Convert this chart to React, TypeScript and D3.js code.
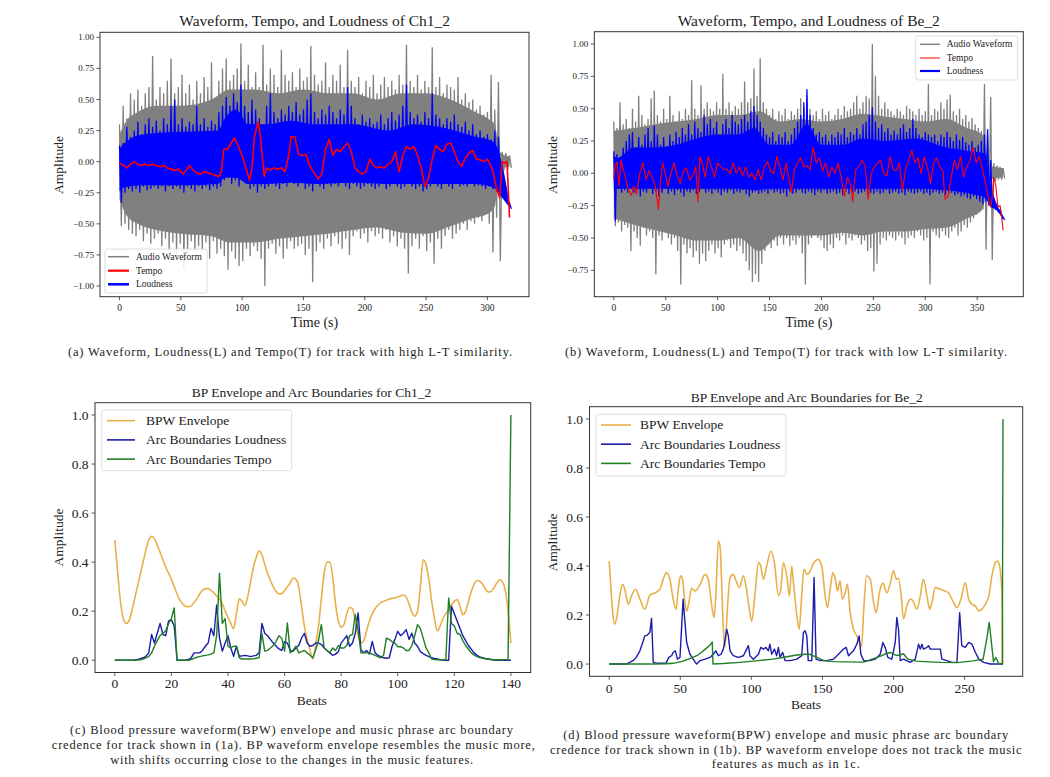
import React from 'react';
import * as d3 from 'd3';

const SERIF = "'Liberation Serif', 'Times New Roman', Times, serif";

// ---------------- (a) Ch1_2 : waveform / loudness / tempo ----------------
const CH_STEP = 3; // seconds between envelope samples (peak values per sample)
const CH_WAVE_UPPER = [
  0.30, 0.45, 0.35, 0.55,
  0.50, 0.58, 0.45, 0.55, 0.60, 0.85,
  0.50, 0.60, 0.55, 0.65, 0.83, 0.55,
  0.60, 0.70, 0.55, 0.62, 0.50, 0.65,
  0.55, 0.68, 0.60, 0.80, 0.50, 0.65,
  0.75, 0.83, 0.65, 0.70, 0.75, 0.95,
  0.65, 0.78, 0.60, 0.72, 0.60, 0.94,
  0.62, 0.75, 0.70, 0.60, 0.90, 0.70,
  0.65, 0.72, 0.60, 0.75, 0.65, 0.68,
  0.93, 0.70, 0.62, 0.65, 0.80, 0.60,
  0.70, 0.65, 0.78, 0.60, 0.90, 0.65,
  0.60, 0.68, 0.55, 0.65, 0.60, 0.70,
  0.55, 0.62, 0.68, 0.60, 0.65, 0.58,
  0.70, 0.62, 0.94, 0.65, 0.60, 0.70,
  0.58, 0.65, 0.60, 0.92, 0.60, 0.68,
  0.55, 0.62, 0.60, 0.58, 0.68, 0.50,
  0.55, 0.48, 0.50, 0.42, 0.45, 0.38,
  0.40, 0.70, 0.42, 0.64, 0.08, 0.07, 0.05,
];
const CH_WAVE_LOWER = [
  -0.52, -0.50, -0.55, -0.58,
  -0.60, -0.55, -0.64, -0.58, -0.66, -0.62,
  -0.58, -0.68, -0.62, -0.72, -0.65, -0.74,
  -0.66, -0.86, -0.75, -0.64, -0.72, -0.68,
  -0.72, -0.65, -0.78, -0.64, -0.74, -0.70,
  -0.76, -0.87, -0.72, -0.78, -0.84, -0.80,
  -0.70, -0.76, -0.68, -0.72, -0.78, -1.00,
  -0.70, -0.66, -0.74, -0.68, -0.78, -0.70,
  -0.64, -0.70, -0.68, -0.66, -0.75, -0.70,
  -0.97, -0.72, -0.65, -0.70, -0.62, -0.68,
  -0.60, -0.66, -0.70, -0.62, -0.75, -0.60,
  -0.56, -0.62, -0.58, -0.65, -0.56, -0.60,
  -0.58, -0.62, -0.55, -0.65, -0.60, -0.68,
  -0.62, -0.70, -0.90, -0.68, -0.62, -0.70,
  -0.60, -0.72, -0.65, -0.82, -0.62, -0.70,
  -0.60, -0.55, -0.62, -0.58, -0.55, -0.50,
  -0.55, -0.48, -0.50, -0.45, -0.48, -0.42,
  -0.50, -0.73, -0.45, -0.80, -0.07, -0.06, -0.05,
];
// dense (solid) body of the waveform band
const CH_WAVE_CORE_T = [0, 5, 15, 30, 50, 75, 90, 110, 130, 150, 170, 190, 210, 230, 250, 270, 290, 300, 306, 310, 318];
const CH_WAVE_CORE_HI = [0.22, 0.32, 0.4, 0.45, 0.45, 0.5, 0.58, 0.58, 0.55, 0.58, 0.55, 0.55, 0.5, 0.55, 0.55, 0.5, 0.4, 0.35, 0.3, 0.08, 0.04];
const CH_WAVE_CORE_LO = [-0.3, -0.42, -0.5, -0.55, -0.58, -0.6, -0.65, -0.65, -0.62, -0.6, -0.58, -0.55, -0.53, -0.57, -0.58, -0.52, -0.45, -0.42, -0.36, -0.06, -0.04];

const CH_LOUD_UPPER = [
  0.13, 0.15, 0.28, 0.20,
  0.25, 0.32, 0.22, 0.30, 0.35, 0.28,
  0.33, 0.25, 0.35, 0.30, 0.45, 0.50,
  0.30, 0.35, 0.28, 0.32, 0.30, 0.45,
  0.30, 0.35, 0.28, 0.33, 0.30, 0.40,
  0.45, 0.52, 0.45, 0.55, 0.48, 0.62,
  0.45, 0.40, 0.50, 0.42, 0.35, 0.30,
  0.45, 0.55, 0.40, 0.35, 0.42, 0.38,
  0.45, 0.40, 0.48, 0.38, 0.42, 0.50,
  0.55, 0.40, 0.35, 0.42, 0.38, 0.45,
  0.40, 0.35, 0.42, 0.38, 0.60, 0.45,
  0.35, 0.30, 0.38, 0.32, 0.35, 0.30,
  0.32, 0.38, 0.30, 0.35, 0.40, 0.33,
  0.38, 0.45, 0.62, 0.40, 0.35, 0.38,
  0.32, 0.40, 0.35, 0.55, 0.38, 0.35,
  0.30, 0.35, 0.32, 0.38, 0.30, 0.28,
  0.32, 0.25, 0.30, 0.22, 0.25, 0.20,
  0.22, 0.18, 0.25, 0.20, 0.00, -0.20, -0.33,
];
const CH_LOUD_LOWER = [
  -0.33, -0.25, -0.22, -0.24,
  -0.22, -0.25, -0.20, -0.23, -0.22, -0.20,
  -0.22, -0.20, -0.24, -0.20, -0.22, -0.20,
  -0.22, -0.25, -0.20, -0.22, -0.24, -0.20,
  -0.22, -0.20, -0.23, -0.20, -0.22, -0.20,
  -0.15, -0.12, -0.18, -0.15, -0.20, -0.15,
  -0.18, -0.22, -0.20, -0.25, -0.20, -0.22,
  -0.20, -0.18, -0.20, -0.22, -0.18, -0.20,
  -0.15, -0.18, -0.20, -0.17, -0.22, -0.20,
  -0.24, -0.18, -0.20, -0.22, -0.18, -0.20,
  -0.18, -0.20, -0.17, -0.20, -0.22, -0.18,
  -0.20, -0.22, -0.20, -0.18, -0.20, -0.22,
  -0.20, -0.18, -0.22, -0.20, -0.18, -0.20,
  -0.22, -0.20, -0.18, -0.20, -0.22, -0.20,
  -0.24, -0.22, -0.20, -0.18, -0.20, -0.22,
  -0.18, -0.20, -0.22, -0.18, -0.20, -0.19,
  -0.20, -0.18, -0.20, -0.19, -0.20, -0.22,
  -0.20, -0.22, -0.24, -0.26, -0.30, -0.33, -0.38,
];
const CH_LOUD_CORE_T = [0, 3, 20, 50, 80, 86, 95, 105, 120, 140, 160, 190, 220, 240, 260, 290, 305, 312, 318];
const CH_LOUD_CORE_HI = [0.1, 0.14, 0.22, 0.24, 0.25, 0.35, 0.42, 0.3, 0.3, 0.33, 0.3, 0.3, 0.25, 0.3, 0.28, 0.2, 0.16, -0.02, -0.33];
const CH_LOUD_CORE_LO = [-0.24, -0.21, -0.19, -0.19, -0.18, -0.13, -0.13, -0.18, -0.18, -0.17, -0.18, -0.17, -0.18, -0.18, -0.18, -0.18, -0.21, -0.29, -0.37];

const CH_TEMPO_T = [
  0, 3, 6, 9, 12, 15, 18, 21, 24, 27, 30, 33, 36, 39, 42, 45, 48,
  52, 55, 57, 60, 63, 66, 69, 72, 75, 78, 81,
  83, 85, 88, 91, 94, 97, 100, 103, 106, 108, 110, 113, 115, 118, 120,
  123, 126, 129, 132, 135, 138, 140, 143, 146, 149, 152, 155, 158, 162, 165, 168, 171,
  174, 177, 180, 183, 186, 189, 192, 195, 198, 201, 204, 207, 210, 213, 216, 219, 222, 225, 228, 231, 234, 237, 240, 243, 246, 249, 252,
  255, 258, 261, 264, 267, 270, 273, 276, 279, 282, 285, 288, 291, 294, 297, 300, 303,
  305, 307, 310, 312, 314, 316, 318,
];
const CH_TEMPO_V = [
  -0.01, -0.03, -0.05, -0.02, 0.0, -0.02, -0.03, -0.02, -0.03, -0.02, -0.03, -0.04, -0.03, -0.05, -0.06, -0.07, -0.06,
  -0.1, -0.06, -0.03, -0.07, -0.09, -0.1, -0.08, -0.09, -0.1, -0.11, -0.12,
  -0.08, 0.1, 0.1, 0.15, 0.19, 0.12, 0.05, -0.05, -0.15, -0.05, 0.2, 0.32, 0.2, -0.12, -0.05,
  -0.07, -0.05, -0.06, -0.05, -0.08, 0.05, 0.2, 0.2, 0.06, 0.05, 0.06, -0.03, -0.08, -0.14, -0.1, 0.1, 0.18,
  0.05, 0.1, 0.08, 0.12, 0.15, 0.08, -0.05, -0.08, -0.1, -0.08, 0.02, -0.03, -0.05, -0.04, -0.05, -0.02, 0.0, 0.08, -0.08, 0.05, 0.12, 0.1, 0.12, 0.05, -0.05, -0.2, -0.13,
  0.02, 0.13, 0.1, 0.08, 0.14, 0.15, 0.08, 0.0, -0.04, 0.03, 0.07, 0.09, 0.02, 0.015, 0.0, 0.02, -0.04,
  -0.1, -0.2, -0.29, 0.0, -0.01, 0.0, -0.45,
];

// ---------------- (b) Be_2 : waveform / loudness / tempo ----------------
const BE_STEP = 3;
const BE_WAVE_UPPER = [
  0.40, 0.35, 0.55, 0.38, 0.42, 0.35,
  0.50, 0.40, 0.60, 0.45, 0.38, 0.42,
  0.58, 0.64, 0.45, 0.40, 0.50, 0.42,
  0.60, 0.45, 0.40, 0.48, 0.42, 0.50,
  0.45, 0.72, 0.50, 0.45, 0.68, 0.50,
  0.55, 0.50, 0.48, 0.55, 0.50, 0.77,
  0.50, 0.55, 0.48, 0.52, 0.50, 0.55,
  0.71, 0.55, 0.58, 0.81, 0.60, 0.89,
  0.55, 0.50, 0.45, 0.50, 0.42, 0.48,
  0.45, 0.50, 0.42, 0.48, 0.45, 0.50,
  0.58, 0.52, 0.60, 0.50, 0.45, 0.48,
  0.42, 0.50, 0.45, 0.48, 0.42, 0.45,
  0.50, 0.45, 0.52, 0.48, 0.50, 0.55,
  0.60, 0.50, 0.55, 0.60, 0.58, 1.00,
  0.75, 0.60, 0.50, 0.55, 0.50, 0.48,
  0.45, 0.50, 0.48, 0.45, 0.52, 0.50,
  0.48, 0.45, 0.50, 0.45, 0.48, 0.69,
  0.45, 0.50, 0.48, 0.55, 0.50, 0.57,
  0.61, 0.48, 0.45, 0.50, 0.42, 0.45,
  0.40, 0.43, 0.38, 0.35, 0.33, 0.69,
  0.30, 0.59, 0.08, 0.06, 0.05, 0.04,
];
const BE_WAVE_LOWER = [
  -0.41, -0.38, -0.45, -0.40, -0.42, -0.60,
  -0.45, -0.50, -0.56, -0.42, -0.48, -0.45,
  -0.50, -0.78, -0.48, -0.52, -0.46, -0.50,
  -0.55, -0.50, -0.60, -0.86, -0.55, -0.62,
  -0.58, -0.65, -0.60, -0.70, -0.62, -0.68,
  -0.60, -0.55, -0.62, -0.58, -0.65, -0.55,
  -0.52, -0.58, -0.55, -0.60, -0.56, -0.62,
  -0.68, -0.75, -0.84, -0.78, -0.84, -0.70,
  -0.60, -0.55, -0.58, -0.52, -0.56, -0.50,
  -0.55, -0.50, -0.56, -0.52, -0.55, -0.50,
  -0.62, -0.86, -0.55, -0.50, -0.45, -0.50,
  -0.52, -0.58, -0.60, -0.55, -0.58, -0.50,
  -0.52, -0.48, -0.55, -0.50, -0.52, -0.48,
  -0.50, -0.55, -0.52, -0.60, -0.58, -0.76,
  -0.70, -0.55, -0.50, -0.52, -0.48, -0.50,
  -0.52, -0.48, -0.50, -0.55, -0.50, -0.48,
  -0.50, -0.45, -0.48, -0.52, -0.50, -0.86,
  -0.45, -0.48, -0.50, -0.45, -0.48, -0.50,
  -0.45, -0.42, -0.48, -0.45, -0.40, -0.42,
  -0.38, -0.35, -0.32, -0.30, -0.28, -0.59,
  -0.25, -0.67, -0.06, -0.05, -0.05, -0.04,
];
const BE_WAVE_CORE_T = [0, 20, 40, 60, 80, 100, 120, 140, 160, 180, 200, 220, 240, 260, 280, 300, 320, 340, 355, 362, 375];
const BE_WAVE_CORE_HI = [0.33, 0.35, 0.38, 0.4, 0.42, 0.45, 0.45, 0.48, 0.4, 0.42, 0.4, 0.42, 0.46, 0.44, 0.42, 0.4, 0.42, 0.35, 0.3, 0.06, 0.04];
const BE_WAVE_CORE_LO = [-0.35, -0.4, -0.44, -0.48, -0.52, -0.52, -0.5, -0.6, -0.48, -0.48, -0.48, -0.46, -0.48, -0.45, -0.45, -0.43, -0.42, -0.35, -0.28, -0.05, -0.03];

const BE_LOUD_UPPER = [
  0.17, 0.15, 0.12, 0.20, 0.25, 0.30,
  0.32, 0.20, 0.28, 0.22, 0.30, 0.35,
  0.25, 0.37, 0.30, 0.22, 0.28, 0.20,
  0.30, 0.25, 0.32, 0.28, 0.35, 0.30,
  0.38, 0.30, 0.40, 0.35, 0.32, 0.45,
  0.38, 0.42, 0.35, 0.40, 0.30, 0.38,
  0.42, 0.35, 0.45, 0.40, 0.38, 0.42,
  0.45, 0.40, 0.48, 0.52, 0.45, 0.40,
  0.35, 0.30, 0.28, 0.32, 0.25, 0.30,
  0.28, 0.32, 0.25, 0.30, 0.35, 0.40,
  0.45, 0.55, 0.65, 0.45, 0.35, 0.30,
  0.32, 0.28, 0.30, 0.25, 0.30, 0.28,
  0.32, 0.30, 0.35, 0.28, 0.32, 0.30,
  0.35, 0.30, 0.38, 0.40, 0.45, 0.51,
  0.40, 0.35, 0.38, 0.32, 0.35, 0.30,
  0.33, 0.30, 0.35, 0.38, 0.32, 0.35,
  0.42, 0.35, 0.30, 0.28, 0.32, 0.30,
  0.28, 0.30, 0.25, 0.30, 0.28, 0.32,
  0.28, 0.25, 0.30, 0.26, 0.28, 0.24,
  0.22, 0.25, 0.20, 0.22, 0.25, 0.30,
  0.34, 0.10, -0.20, -0.25, -0.28, -0.34,
];
const BE_LOUD_LOWER = [
  -0.37, -0.12, -0.15, -0.13, -0.15, -0.12,
  -0.15, -0.13, -0.18, -0.14, -0.15, -0.12,
  -0.16, -0.14, -0.18, -0.15, -0.12, -0.16,
  -0.14, -0.17, -0.13, -0.15, -0.18, -0.14,
  -0.15, -0.13, -0.16, -0.14, -0.12, -0.15,
  -0.14, -0.16, -0.13, -0.15, -0.17, -0.14,
  -0.15, -0.13, -0.16, -0.14, -0.15, -0.13,
  -0.16, -0.18, -0.15, -0.14, -0.16, -0.15,
  -0.14, -0.16, -0.13, -0.15, -0.14, -0.16,
  -0.15, -0.18, -0.14, -0.16, -0.15, -0.13,
  -0.15, -0.16, -0.14, -0.15, -0.17, -0.14,
  -0.15, -0.13, -0.16, -0.15, -0.14, -0.16,
  -0.15, -0.17, -0.14, -0.16, -0.15, -0.14,
  -0.16, -0.15, -0.14, -0.17, -0.15, -0.16,
  -0.14, -0.16, -0.15, -0.13, -0.16, -0.15,
  -0.14, -0.16, -0.15, -0.17, -0.14, -0.15,
  -0.16, -0.15, -0.14, -0.16, -0.15, -0.17,
  -0.15, -0.14, -0.16, -0.15, -0.17, -0.16,
  -0.15, -0.17, -0.16, -0.18, -0.17, -0.19,
  -0.20, -0.18, -0.20, -0.22, -0.24, -0.22,
  -0.25, -0.26, -0.28, -0.30, -0.32, -0.36,
];
const BE_LOUD_CORE_T = [0, 3, 20, 40, 60, 80, 100, 120, 135, 150, 170, 186, 200, 220, 240, 260, 290, 320, 345, 358, 362, 368, 375];
const BE_LOUD_CORE_HI = [0.14, 0.12, 0.2, 0.2, 0.22, 0.27, 0.3, 0.3, 0.35, 0.22, 0.22, 0.38, 0.22, 0.22, 0.27, 0.25, 0.27, 0.2, 0.17, 0.15, -0.05, -0.22, -0.33];
const BE_LOUD_CORE_LO = [-0.13, -0.12, -0.12, -0.12, -0.12, -0.12, -0.12, -0.12, -0.13, -0.12, -0.12, -0.12, -0.12, -0.12, -0.12, -0.12, -0.12, -0.13, -0.16, -0.19, -0.25, -0.28, -0.36];

const BE_TEMPO_T = [
  0, 1, 3, 5, 7, 9, 11, 14, 17, 19,
  22, 25, 28, 31, 34, 37, 40, 43, 45, 47,
  50, 52, 55, 58, 61, 64, 67, 70, 73, 76,
  79, 81, 83, 85, 88, 91, 94, 97, 100, 103,
  106, 109, 112, 115, 118, 121, 124, 127, 130, 133,
  136, 139, 142, 145, 148, 151, 154, 157, 160, 163,
  166, 169, 171, 174, 177, 180, 183, 186, 189, 192,
  195, 198, 201, 204, 207, 210, 213, 216, 219, 222,
  225, 228, 230, 233, 236, 239, 242, 245, 248, 251,
  254, 257, 260, 263, 266, 269, 272, 275, 278, 281,
  284, 287, 290, 293, 296, 299, 302, 305, 308, 311,
  314, 317, 319, 322, 325, 328, 331, 334, 337, 340,
  343, 346, 349, 352, 355, 358, 361, 363, 365, 366,
  368, 370, 372, 373, 374, 375,
];
const BE_TEMPO_V = [
  -0.05, 0.05, 0.09, -0.1, 0.1, 0.03, -0.02, -0.13, -0.17, -0.1,
  -0.16, 0.0, 0.08, -0.05, 0.02, -0.03, -0.1, -0.28, -0.05, 0.08,
  -0.02, -0.1, 0.0, 0.08, -0.02, -0.08, 0.02, 0.04, -0.05, -0.02,
  0.05, -0.22, 0.13, 0.08, -0.03, 0.13, 0.05, -0.03, 0.08, 0.05,
  0.03, 0.03, 0.0, 0.08, 0.0, 0.05, -0.02, 0.05, -0.03, 0.0,
  -0.05, 0.03, -0.05, 0.05, 0.09, 0.02, 0.0, 0.13, 0.05, -0.05,
  0.08, -0.05, -0.15, 0.03, 0.08, 0.12, 0.05, 0.06, 0.03, 0.2,
  0.08, 0.12, 0.02, 0.08, -0.03, 0.05, 0.0, 0.08, -0.03, -0.18,
  -0.03, -0.08, -0.22, 0.03, 0.05, 0.1, 0.06, -0.2, 0.0, 0.05,
  0.08, 0.1, 0.0, -0.02, 0.13, 0.03, 0.02, 0.08, -0.13, 0.03,
  0.1, 0.18, 0.08, 0.12, 0.0, 0.13, 0.05, -0.08, 0.08, 0.12,
  0.05, 0.02, -0.2, -0.18, -0.03, 0.1, 0.03, 0.13, -0.03, 0.05,
  0.1, 0.2, 0.08, 0.13, 0.03, -0.08, -0.2, -0.26, -0.15, -0.03,
  -0.1, -0.26, -0.25, -0.3, -0.37, -0.44,
];

// ---------------- (c) Ch1_2 : BPW envelope & arc boundaries (one value per beat) ----------------
const CH_BPW = [
  0.49, 0.36, 0.24, 0.17, 0.15, 0.16, 0.2, 0.25, 0.3, 0.35,
  0.4, 0.45, 0.49, 0.505, 0.495, 0.47, 0.44, 0.41, 0.38, 0.355,
  0.33, 0.3, 0.27, 0.245, 0.23, 0.22, 0.218, 0.222, 0.235, 0.25,
  0.27, 0.285, 0.292, 0.292, 0.285, 0.275, 0.262, 0.25, 0.23, 0.2,
  0.175, 0.15, 0.128, 0.19, 0.25, 0.24, 0.222, 0.26, 0.32, 0.38,
  0.42, 0.445, 0.43, 0.39, 0.355, 0.325, 0.3, 0.28, 0.27, 0.272,
  0.285, 0.3, 0.315, 0.335, 0.33, 0.3, 0.22, 0.14, 0.085, 0.04,
  0.005, 0.06, 0.14, 0.25, 0.355, 0.4, 0.4, 0.34, 0.23, 0.16,
  0.135, 0.145, 0.19, 0.215, 0.21, 0.16, 0.1, 0.07, 0.08, 0.12,
  0.16, 0.19, 0.21, 0.225, 0.235, 0.24, 0.245, 0.25, 0.252, 0.255,
  0.258, 0.262, 0.266, 0.258, 0.23, 0.195, 0.18, 0.2, 0.3, 0.41,
  0.39, 0.33, 0.24, 0.17, 0.12, 0.14, 0.17, 0.19, 0.205, 0.225,
  0.24, 0.247, 0.22, 0.185, 0.2, 0.24, 0.28, 0.31, 0.325, 0.322,
  0.31, 0.29, 0.278, 0.28, 0.295, 0.315, 0.328, 0.32, 0.285, 0.2,
  0.07,
];
const CH_ARC_LOUD = [
  0, 0, 0, 0, 0, 0, 0, 0.001, 0.003, 0.006,
  0.01, 0.016, 0.03, 0.105, 0.07, 0.11, 0.15, 0.105, 0.1, 0.16,
  0.165, 0.14, 0, 0, 0, 0, 0.003, 0.01, 0.03, 0.03,
  0.03, 0.04, 0.057, 0.07, 0.13, 0.1, 0.225, 0.09, 0.037, 0.07,
  0.1, 0.05, 0.016, 0.057, 0.016, 0.018, 0.02, 0.018, 0.015, 0.018,
  0.02, 0.03, 0.15, 0.11, 0.1, 0.085, 0.07, 0.058, 0.046, 0.04,
  0.077, 0.07, 0.04, 0.037, 0.05, 0.06, 0.09, 0.11, 0.07, 0.057,
  0.06, 0.07, 0.07, 0.065, 0.05, 0.04, 0.03, 0.02, 0.025, 0.035,
  0.07, 0.085, 0.1, 0.057, 0.07, 0.11, 0.193, 0.043, 0.03, 0.04,
  0.025, 0.077, 0.03, 0.02, 0.015, 0.01, 0.008, 0.01, 0.057, 0.085,
  0.118, 0.1, 0.11, 0.125, 0.085, 0.11, 0.07, 0.057, 0.035, 0.027,
  0.02, 0.015, 0.01, 0.007, 0.005, 0.002, 0.001, 0, 0, 0.22,
  0.19, 0.16, 0.13, 0.1, 0.08, 0.06, 0.045, 0.03, 0.02, 0.014,
  0.01, 0.007, 0.005, 0.003, 0.001, 0, 0, 0, 0, 0,
  0,
];
const CH_ARC_TEMPO = [
  0, 0, 0, 0, 0, 0, 0, 0, 0.001, 0.002,
  0.005, 0.01, 0.015, 0.03, 0.057, 0.08, 0.1, 0.11, 0.12, 0.15,
  0.17, 0.213, 0, 0, 0, 0, 0, 0.003, 0.008, 0.012,
  0.015, 0.018, 0.02, 0.022, 0.025, 0.03, 0.1, 0.355, 0.15, 0.17,
  0.057, 0.05, 0.057, 0.057, 0.01, 0.005, 0.005, 0.005, 0.005, 0.006,
  0.008, 0.01, 0.11, 0.037, 0.04, 0.05, 0.06, 0.077, 0.1, 0.09,
  0.037, 0.152, 0.03, 0.04, 0.057, 0.03, 0.035, 0.04, 0.03, 0.02,
  0.01, 0.043, 0.08, 0.145, 0.05, 0.04, 0.03, 0.05, 0.04, 0.06,
  0.05, 0.05, 0.06, 0.1, 0.105, 0.186, 0.125, 0.03, 0.03, 0.03,
  0.03, 0.025, 0.02, 0.015, 0.01, 0.02, 0.09, 0.085, 0.075, 0.07,
  0.055, 0.055, 0.05, 0.04, 0.04, 0.06, 0.1, 0.145, 0.13, 0.09,
  0.05, 0.03, 0.005, 0.003, 0.002, 0.002, 0.002, 0.002, 0.254, 0.15,
  0.14, 0.11, 0.105, 0.08, 0.06, 0.045, 0.03, 0.022, 0.015, 0.011,
  0.008, 0.006, 0.004, 0.003, 0.002, 0.002, 0.002, 0.002, 0.002, 0.002,
  1.0,
];

// ---------------- (d) Be_2 : BPW envelope & arc boundaries (beat, value) ----------------
const BE_BPW_B = [
  0, 1, 2.3, 4, 5.6, 7.5, 9.4, 11, 13.4, 15.7, 18.5, 21.6, 25, 28.6, 32, 35.7, 38, 40.4, 42.7, 45,
  47, 48.6, 50.2, 51.6, 52.8, 54.5, 56, 58, 60.3, 64, 67.4, 69.7, 72, 73.7, 75, 76.8, 78, 79, 80.3, 81.5,
  83, 85, 87.3, 89.7, 91.5, 94.4, 96.2, 98.6, 100.2, 102.6, 105, 106.6, 108.5, 110.8, 113.8, 116.2, 119, 120.7, 122.5, 124.9,
  126.8, 128.4, 129.6, 132, 133.6, 135.4, 137, 139, 140.8, 144, 147, 149.5, 151.9, 153.5, 155.4, 157.3, 159, 160.6, 162.4, 164,
  166, 167.6, 169.5, 171.8, 174.2, 176.5, 177.5, 178.9, 181, 183.6, 186, 187.8, 190, 192.5, 195.3, 197.7, 200, 201.9, 203.5, 205.4,
  207, 209.4, 211.7, 213.6, 216.4, 218.8, 221, 223.5, 225.4, 227, 229.3, 232.9, 235, 238.7, 242.3, 244.6, 247.4, 250.5, 252.8, 255,
  257.5, 260, 262.2, 264.6, 267, 269.2, 271.6, 273.2, 274.6, 276.3, 277,
];
const BE_BPW_V = [
  0.42, 0.33, 0.22, 0.163, 0.2, 0.28, 0.325, 0.305, 0.244, 0.278, 0.305, 0.265, 0.224, 0.28, 0.29, 0.305, 0.346, 0.373, 0.346, 0.265,
  0.224, 0.305, 0.36, 0.346, 0.278, 0.215, 0.25, 0.31, 0.298, 0.325, 0.366, 0.346, 0.244, 0.19, 0.278, 0.502, 0.48, 0.346, 0.142, 0.07,
  0.21, 0.353, 0.366, 0.332, 0.312, 0.36, 0.319, 0.224, 0.175, 0.29, 0.414, 0.4, 0.346, 0.4, 0.46, 0.414, 0.28, 0.305, 0.414, 0.36,
  0.278, 0.4, 0.332, 0.197, 0.142, 0.278, 0.387, 0.366, 0.373, 0.414, 0.427, 0.4, 0.278, 0.23, 0.305, 0.373, 0.346, 0.298, 0.34, 0.265,
  0.29, 0.325, 0.21, 0.142, 0.115, 0.08, 0.07, 0.21, 0.36, 0.346, 0.25, 0.21, 0.29, 0.33, 0.29, 0.33, 0.38, 0.346, 0.35, 0.278,
  0.185, 0.237, 0.265, 0.258, 0.224, 0.278, 0.346, 0.278, 0.224, 0.251, 0.312, 0.305, 0.3, 0.29, 0.25, 0.23, 0.265, 0.332, 0.265, 0.244,
  0.237, 0.217, 0.224, 0.244, 0.278, 0.36, 0.414, 0.42, 0.4, 0.278, 0.0,
];
const BE_ARC_LOUD_B = [
  0, 12, 14.5, 17, 19, 21.6, 24, 25, 26.8, 28.6, 29.8, 31, 34, 40, 42, 44, 45, 46.5, 48, 49.8,
  52, 53.3, 54.5, 56.8, 59, 61.5, 64, 67.4, 70.9, 73.2, 75, 76.8, 78.6, 80.3, 81.5, 82.6, 83.8, 85, 87.3, 90.8,
  94.4, 96.7, 97.9, 99, 101.4, 105, 106.6, 108.5, 110.3, 112, 113, 114.3, 116.2, 117.8, 119, 120.2, 122, 123.7, 127.2, 132,
  135.4, 136.6, 137.8, 139, 140, 142.5, 144.1, 145.5, 148.4, 153, 157.7, 161.3, 164.8, 166.7, 168.3, 171.8, 174.2, 175.8, 177, 179,
  183.6, 187, 190.6, 192.5, 194.1, 196, 198.8, 201.2, 202.3, 203.5, 204.7, 207, 211.7, 215.3, 217.6, 218.8, 220, 221, 223.5, 224.6,
  225.8, 229.3, 232.9, 234, 237.6, 241, 244.6, 246.5, 248, 250.5, 252.8, 255.2, 257.5, 260, 263.4, 268, 277,
];
const BE_ARC_LOUD_V = [
  0, 0, 0.007, 0.015, 0.027, 0.054, 0.095, 0.115, 0.118, 0.13, 0.186, 0.007, 0.003, 0.004, 0.027, 0.035, 0.048, 0.054, 0.02, 0.027,
  0.265, 0.17, 0.088, 0.04, 0.02, 0.0, 0.014, 0.02, 0.027, 0.04, 0.054, 0.034, 0.04, 0.061, 0.1, 0.142, 0.115, 0.054, 0.034, 0.027,
  0.034, 0.061, 0.075, 0.034, 0.02, 0.04, 0.068, 0.061, 0.068, 0.054, 0.081, 0.04, 0.061, 0.034, 0.068, 0.027, 0.048, 0.014, 0.014, 0.02,
  0.034, 0.129, 0.136, 0.115, 0.014, 0.014, 0.353, 0.02, 0.014, 0.014, 0.02, 0.04, 0.061, 0.068, 0.034, 0.054, 0.081, 0.115, 0.04, 0.014,
  0.014, 0.02, 0.04, 0.088, 0.068, 0.027, 0.02, 0.088, 0.19, 0.142, 0.014, 0.02, 0.007, 0.02, 0.081, 0.061, 0.081, 0.061, 0.068, 0.075,
  0.061, 0.061, 0.061, 0.02, 0.014, 0.007, 0.007, 0.21, 0.075, 0.068, 0.088, 0.081, 0.048, 0.02, 0.007, 0.0, 0.0,
];
const BE_ARC_TEMPO_B = [
  0, 30, 40, 45, 52, 58, 62, 65, 68, 71, 72.5, 73, 80, 92, 105, 115, 125, 132, 138, 141,
  146, 151, 158, 165, 179, 185, 190, 195, 198, 202, 205, 207, 210, 216, 225, 233, 245, 256, 263, 265.5,
  267.3, 268.8, 270.3, 272, 273.8, 276.5, 277,
];
const BE_ARC_TEMPO_V = [
  0, 0, 0.001, 0.003, 0.012, 0.025, 0.035, 0.048, 0.063, 0.078, 0.09, 0.0, 0.002, 0.007, 0.014, 0.02, 0.03, 0.037, 0.04, 0.04,
  0.027, 0.014, 0.01, 0.009, 0.008, 0.02, 0.03, 0.043, 0.047, 0.035, 0.038, 0.042, 0.02, 0.012, 0.009, 0.007, 0.006, 0.013, 0.02, 0.1,
  0.17, 0.09, 0.01, 0.027, 0.003, 0.0, 1.0,
];

// ---------------- tick values ----------------
const CH_X_TICKS = [0, 50, 100, 150, 200, 250, 300];
const CH_Y_TICKS = [-1, -0.75, -0.5, -0.25, 0, 0.25, 0.5, 0.75, 1];
const BE_X_TICKS = [0, 50, 100, 150, 200, 250, 300, 350];
const BE_Y_TICKS = [-0.75, -0.5, -0.25, 0, 0.25, 0.5, 0.75, 1];
const ARC_Y_TICKS = [0, 0.2, 0.4, 0.6, 0.8, 1.0];
const CH_BEAT_TICKS = [0, 20, 40, 60, 80, 100, 120, 140];
const BE_BEAT_TICKS = [0, 50, 100, 150, 200, 250];

// ---------------- helpers ----------------
type Pt = [number, number];
type Band = { t: number; lo: number; hi: number };
type Frame = { l: number; r: number; t: number; b: number };

const makeBand = (hi: number[], lo: number[], step: number): Band[] =>
  hi.slice(0, Math.min(hi.length, lo.length)).map((h, i) => ({ t: i * step, hi: h, lo: lo[i] }));
const makeCore = (ts: number[], hi: number[], lo: number[]): Band[] =>
  ts.slice(0, Math.min(ts.length, hi.length, lo.length)).map((t, i) => ({ t, hi: hi[i], lo: lo[i] }));
const zipPts = (xs: number[], ys: number[]): Pt[] =>
  xs.slice(0, Math.min(xs.length, ys.length)).map((x, i) => [x, ys[i]] as Pt);
const indexPts = (ys: number[]): Pt[] => ys.map((y, i) => [i, y] as Pt);

const fmt2 = d3.format('.2f');
const fmt1 = d3.format('.1f');
const fmt0 = d3.format('d');

const AXIS_COL = '#333';

function AxesFrame({ f }: { f: Frame }) {
  return <rect x={f.l} y={f.t} width={f.r - f.l} height={f.b - f.t} fill="none" stroke={AXIS_COL} strokeWidth={1} />;
}

function XTicks({ x, ticks, f, fmt, size, base }: any) {
  return (
    <g>
      {ticks.map((t: number) => (
        <g key={t}>
          <line x1={x(t)} x2={x(t)} y1={f.b} y2={f.b + 3.5} stroke={AXIS_COL} strokeWidth={0.8} />
          <text x={x(t)} y={base} textAnchor="middle" fontSize={size} fill="#222">{fmt(t)}</text>
        </g>
      ))}
    </g>
  );
}

function YTicks({ y, ticks, f, fmt, size, gap }: any) {
  return (
    <g>
      {ticks.map((t: number) => (
        <g key={t}>
          <line x1={f.l - 3.5} x2={f.l} y1={y(t)} y2={y(t)} stroke={AXIS_COL} strokeWidth={0.8} />
          <text x={f.l - gap} y={y(t)} dy="0.34em" textAnchor="end" fontSize={size} fill="#222">{fmt(t)}</text>
        </g>
      ))}
    </g>
  );
}

type LegendRow = { label: string; color: string; width: number; y: number };
function Legend({ box, rows, lx1, lx2, tx, size }: { box: Frame; rows: LegendRow[]; lx1: number; lx2: number; tx: number; size: number }) {
  return (
    <g>
      <rect x={box.l} y={box.t} width={box.r - box.l} height={box.b - box.t} rx={2.5} fill="#fff" fillOpacity={0.85} stroke="#d4d4d4" strokeWidth={0.8} />
      {rows.map((r) => (
        <g key={r.label}>
          <line x1={lx1} x2={lx2} y1={r.y} y2={r.y} stroke={r.color} strokeWidth={r.width} />
          <text x={tx} y={r.y} dy="0.33em" fontSize={size} fill="#222">{r.label}</text>
        </g>
      ))}
    </g>
  );
}

function CaptionLine({ cx, y, w, text }: { cx: number; y: number; w: number; text: string }) {
  return (
    <text x={cx - w / 2} y={y} fontSize={12.5} fill="#222" textLength={w} lengthAdjust="spacing">{text}</text>
  );
}

// the trace swings from each sample's maximum to its minimum, like a dense audio plot
function traceLine(x: d3.ScaleLinear<number, number>, y: d3.ScaleLinear<number, number>, data: Band[], step: number) {
  const pts: Pt[] = [];
  data.forEach((d) => {
    pts.push([d.t, d.hi]);
    pts.push([d.t + step / 2, d.lo]);
  });
  return d3.line<Pt>().x((p) => x(p[0])).y((p) => y(p[1]))(pts) || '';
}

function WavePanel(p: {
  id: string; f: Frame; xDomain: [number, number]; yDomain: [number, number];
  xTicks: number[]; yTicks: number[]; title: string; titleX: number; step: number;
  ylabelX: number; wave: Band[]; waveCore: Band[]; loud: Band[]; loudCore: Band[];
  tempo: Pt[]; tempoW: number;
  legendBox: Frame; legendRows: LegendRow[]; lx1: number; lx2: number; tx: number;
}) {
  const { f } = p;
  const x = d3.scaleLinear().domain(p.xDomain).range([f.l, f.r]);
  const y = d3.scaleLinear().domain(p.yDomain).range([f.b, f.t]);
  const band = d3.area<Band>().x((d) => x(d.t)).y0((d) => y(d.lo)).y1((d) => y(d.hi)).curve(d3.curveMonotoneX);
  const line = d3.line<Pt>().x((d) => x(d[0])).y((d) => y(d[1]));
  return (
    <g>
      <defs>
        <clipPath id={p.id}><rect x={f.l} y={f.t} width={f.r - f.l} height={f.b - f.t} /></clipPath>
      </defs>
      <g clipPath={`url(#${p.id})`}>
        <path d={band(p.waveCore) || ''} fill="#808080" stroke="none" />
        <path d={traceLine(x, y, p.wave, p.step)} fill="none" stroke="#808080" strokeWidth={1.3} strokeLinejoin="bevel" />
        <path d={band(p.loudCore) || ''} fill="#0000ff" stroke="none" />
        <path d={traceLine(x, y, p.loud, p.step)} fill="none" stroke="#0000ff" strokeWidth={1.3} strokeLinejoin="bevel" />
        <path d={line(p.tempo) || ''} fill="none" stroke="#ff0000" strokeWidth={p.tempoW} strokeLinejoin="round" />
      </g>
      <AxesFrame f={f} />
      <XTicks x={x} ticks={p.xTicks} f={f} fmt={fmt0} size={9.5} base={310.5} />
      <YTicks y={y} ticks={p.yTicks} f={f} fmt={fmt2} size={9} gap={6} />
      <text x={p.titleX} y={26} textAnchor="middle" fontSize={15.5} fill="#222">{p.title}</text>
      <text x={(f.l + f.r) / 2} y={326.5} textAnchor="middle" fontSize={14} fill="#222">Time (s)</text>
      <text transform={`translate(${p.ylabelX},165) rotate(-90)`} textAnchor="middle" fontSize={13.5} fill="#222">Amplitude</text>
      <Legend box={p.legendBox} rows={p.legendRows} lx1={p.lx1} lx2={p.lx2} tx={p.tx} size={9.5} />
    </g>
  );
}

function ArcPanel(p: {
  id: string; f: Frame; xDomain: [number, number]; xTicks: number[];
  title: string; titleX: number; titleY: number; xlabelX: number; xlabelY: number;
  ylabelX: number; ylabelY: number; tickBase: number;
  bpw: Pt[]; loud: Pt[]; tempo: Pt[];
  legendBox: Frame; legendRows: LegendRow[]; lx1: number; lx2: number; tx: number;
}) {
  const { f } = p;
  const x = d3.scaleLinear().domain(p.xDomain).range([f.l, f.r]);
  const y = d3.scaleLinear().domain([-0.05, 1.05]).range([f.b, f.t]);
  const smooth = d3.line<Pt>().x((d) => x(d[0])).y((d) => y(d[1])).curve(d3.curveMonotoneX);
  const line = d3.line<Pt>().x((d) => x(d[0])).y((d) => y(d[1]));
  return (
    <g>
      <defs>
        <clipPath id={p.id}><rect x={f.l} y={f.t} width={f.r - f.l} height={f.b - f.t} /></clipPath>
      </defs>
      <g clipPath={`url(#${p.id})`}>
        <path d={smooth(p.bpw) || ''} fill="none" stroke="#e8b04b" strokeWidth={1.6} strokeLinejoin="round" />
        <path d={line(p.loud) || ''} fill="none" stroke="#1c1cab" strokeWidth={1.4} strokeLinejoin="round" />
        <path d={line(p.tempo) || ''} fill="none" stroke="#1f7f25" strokeWidth={1.4} strokeLinejoin="round" />
      </g>
      <AxesFrame f={f} />
      <XTicks x={x} ticks={p.xTicks} f={f} fmt={fmt0} size={13.5} base={p.tickBase} />
      <YTicks y={y} ticks={ARC_Y_TICKS} f={f} fmt={fmt1} size={13.5} gap={6.5} />
      <text x={p.titleX} y={p.titleY} textAnchor="middle" fontSize={13.5} fill="#222">{p.title}</text>
      <text x={p.xlabelX} y={p.xlabelY} textAnchor="middle" fontSize={13.5} fill="#222">Beats</text>
      <text transform={`translate(${p.ylabelX},${p.ylabelY}) rotate(-90)`} textAnchor="middle" fontSize={13.5} fill="#222">Amplitude</text>
      <Legend box={p.legendBox} rows={p.legendRows} lx1={p.lx1} lx2={p.lx2} tx={p.tx} size={13.5} />
    </g>
  );
}

export default function App() {
  const chWave = makeBand(CH_WAVE_UPPER, CH_WAVE_LOWER, CH_STEP);
  const chLoud = makeBand(CH_LOUD_UPPER, CH_LOUD_LOWER, CH_STEP);
  const beWave = makeBand(BE_WAVE_UPPER, BE_WAVE_LOWER, BE_STEP);
  const beLoud = makeBand(BE_LOUD_UPPER, BE_LOUD_LOWER, BE_STEP);

  const arcRows = (y0: number, dy: number): LegendRow[] => [
    { label: 'BPW Envelope', color: '#e8b04b', width: 1.6, y: y0 },
    { label: 'Arc Boundaries Loudness', color: '#1c1cab', width: 1.6, y: y0 + dy },
    { label: 'Arc Boundaries Tempo', color: '#1f7f25', width: 1.6, y: y0 + 2 * dy },
  ];

  return (
    <svg width={1050} height={777} style={{ position: 'absolute', left: 0, top: 0 }} fontFamily={SERIF}>
      <rect x={0} y={0} width={1050} height={777} fill="#fff" />

      <WavePanel
        id="clipA" f={{ l: 100, r: 529, t: 32.3, b: 296.7 }}
        xDomain={[-15.9, 333.9]} yDomain={[-1.086, 1.0405]}
        xTicks={CH_X_TICKS} yTicks={CH_Y_TICKS} step={CH_STEP}
        title="Waveform, Tempo, and Loudness of Ch1_2" titleX={314.7} ylabelX={63}
        wave={chWave} waveCore={makeCore(CH_WAVE_CORE_T, CH_WAVE_CORE_HI, CH_WAVE_CORE_LO)}
        loud={chLoud} loudCore={makeCore(CH_LOUD_CORE_T, CH_LOUD_CORE_HI, CH_LOUD_CORE_LO)}
        tempo={zipPts(CH_TEMPO_T, CH_TEMPO_V)} tempoW={1.6}
        legendBox={{ l: 105, r: 207, t: 249, b: 293 }}
        legendRows={[
          { label: 'Audio Waveform', color: '#808080', width: 1.5, y: 256.7 },
          { label: 'Tempo', color: '#ff0000', width: 2.2, y: 270.7 },
          { label: 'Loudness', color: '#0000ff', width: 2.5, y: 284.3 },
        ]}
        lx1={108} lx2={129} tx={136}
      />

      <WavePanel
        id="clipB" f={{ l: 594.3, r: 1023.3, t: 31.7, b: 296.7 }}
        xDomain={[-18.78, 394.4]} yDomain={[-0.954, 1.095]}
        xTicks={BE_X_TICKS} yTicks={BE_Y_TICKS} step={BE_STEP}
        title="Waveform, Tempo, and Loudness of Be_2" titleX={808.8} ylabelX={557}
        wave={beWave} waveCore={makeCore(BE_WAVE_CORE_T, BE_WAVE_CORE_HI, BE_WAVE_CORE_LO)}
        loud={beLoud} loudCore={makeCore(BE_LOUD_CORE_T, BE_LOUD_CORE_HI, BE_LOUD_CORE_LO)}
        tempo={zipPts(BE_TEMPO_T, BE_TEMPO_V)} tempoW={1.1}
        legendBox={{ l: 915.7, r: 1017.7, t: 36, b: 80 }}
        legendRows={[
          { label: 'Audio Waveform', color: '#808080', width: 1.5, y: 44.3 },
          { label: 'Tempo', color: '#ff0000', width: 1.0, y: 58 },
          { label: 'Loudness', color: '#0000ff', width: 2.2, y: 71 },
        ]}
        lx1={920} lx2={940} tx={946.7}
      />

      <CaptionLine cx={290} y={356} w={444} text="(a) Waveform, Loudness(L) and Tempo(T) for track with high L-T similarity." />
      <CaptionLine cx={786} y={356} w={442} text="(b) Waveform, Loudness(L) and Tempo(T) for track with low L-T similarity." />

      <ArcPanel
        id="clipC" f={{ l: 95, r: 530.7, t: 402.7, b: 672.5 }}
        xDomain={[-7, 147]} xTicks={CH_BEAT_TICKS}
        title="BP Envelope and Arc Boundaries for Ch1_2" titleX={311.5} titleY={397.3}
        xlabelX={311.7} xlabelY={705} ylabelX={63} ylabelY={537.5} tickBase={688.3}
        bpw={indexPts(CH_BPW)} loud={indexPts(CH_ARC_LOUD)} tempo={indexPts(CH_ARC_TEMPO)}
        legendBox={{ l: 101.7, r: 291.7, t: 410, b: 470.7 }}
        legendRows={arcRows(420.7, 19.2)} lx1={107} lx2={135} tx={146}
      />

      <ArcPanel
        id="clipD" f={{ l: 589.5, r: 1022.7, t: 406.7, b: 676.3 }}
        xDomain={[-13.85, 290.85]} xTicks={BE_BEAT_TICKS}
        title="BP Envelope and Arc Boundaries for Be_2" titleX={806.7} titleY={401.7}
        xlabelX={806} xlabelY={709.3} ylabelX={557} ylabelY={542.5} tickBase={693}
        bpw={zipPts(BE_BPW_B, BE_BPW_V)} loud={zipPts(BE_ARC_LOUD_B, BE_ARC_LOUD_V)} tempo={zipPts(BE_ARC_TEMPO_B, BE_ARC_TEMPO_V)}
        legendBox={{ l: 596, r: 786, t: 414.3, b: 476 }}
        legendRows={arcRows(425, 19.2)} lx1={601} lx2={631} tx={640}
      />

      <CaptionLine cx={291.5} y={734.3} w={443} text="(c) Blood pressure waveform(BPW) envelope and music phrase arc boundary" />
      <CaptionLine cx={293.3} y={749.3} w={483} text="credence for track shown in (1a). BP waveform envelope resembles the music more," />
      <CaptionLine cx={291.7} y={763.5} w={363} text="with shifts occurring close to the changes in the music features." />

      <CaptionLine cx={785.8} y={738.7} w={445} text="(d) Blood pressure waveform(BPW) envelope and music phrase arc boundary" />
      <CaptionLine cx={785.8} y={753.7} w={471.7} text="credence for track shown in (1b). BP waveform envelope does not track the music" />
      <CaptionLine cx={785.8} y={768} w={148} text="features as much as in 1c." />
    </svg>
  );
}
